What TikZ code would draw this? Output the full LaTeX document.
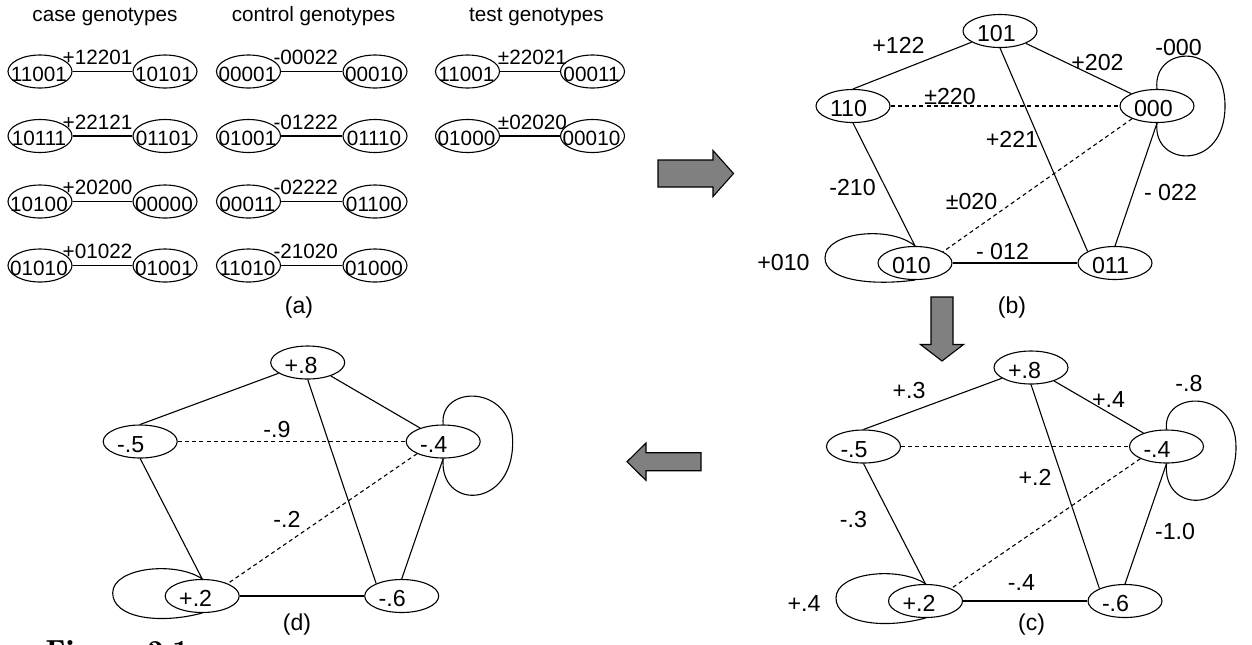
\documentclass[tikz,border=0pt]{standalone}
\usepackage{fontspec}
\setmainfont{Liberation Sans}
\usetikzlibrary{shapes.geometric}
\definecolor{arrowgray}{RGB}{128,128,128}
\tikzset{
  pairell/.style={draw, ellipse, minimum width=32pt, minimum height=16.5pt, inner sep=0pt},
  graphell/.style={draw, ellipse, minimum width=37pt, minimum height=16.5pt, inner sep=0pt},
  pairtxt/.style={inner sep=0pt, font=\fontsize{10.35pt}{12pt}\selectfont},
  graphtxt/.style={inner sep=0pt, font=\fontsize{11.6pt}{13pt}\selectfont},
  captxt/.style={inner sep=0pt, anchor=base, font=\fontsize{11.5pt}{13pt}\selectfont},
  pairlab/.style={pairtxt, anchor=base, pos=0.5, yshift=3.5pt},
  edgelab/.style={graphtxt, anchor=base},
  weak/.style={dash pattern=on 2pt off 1.6pt},
  blockarrow/.style={draw, fill=arrowgray, line join=miter},
}
% genotype node of panel (a): ellipse plus its centred text
\newcommand\pairnode[3]{%
  \node[pairell] (#1) at (#2) {};
  \node[pairtxt, anchor=base] (#1t) at ([shift={(-1,9.5)}]#1.center) {#3};}
% one row of panel (a): two genotypes joined by a labelled line
\newcommand\pairrow[8]{%
  \pairnode{#1l}{#2,#4}{#5}%
  \pairnode{#1r}{#3,#4}{#6}%
  \draw (#1l) -- node[pairlab, xshift=#8]{#7} (#1r);}
% graph vertex: ellipse with text set from its left side
\newcommand\graphnode[3]{%
  \node[graphell] (#1) at (#2) {};
  \node[graphtxt, anchor=base west] (#1t) at ([shift={(14,10.5)}]#1.west) {#3};}
% the weighted five-vertex graph of panels (c) and (d)
\newcommand\pentagraph[1]{%
  \graphnode{#1top}{1031,367.5}{+.8}
  \graphnode{#1left}{863.5,446.5}{-.5}
  \graphnode{#1right}{1166.5,446.5}{-.4}
  \graphnode{#1bl}{925.5,601}{+.2}
  \graphnode{#1br}{1125,601}{-.6}
  \draw (#1top) -- (#1left.north);
  \draw (#1top) -- (#1right);
  \draw (#1top.south) -- (#1br.154);
  \draw[weak] (#1left.east) -- (#1right.west);
  \draw[weak] (#1right.205) -- (#1bl.26);
  \draw (#1left.south) -- (#1bl.north);
  \draw (#1right.south) -- (#1br.north);
  \draw (#1bl.east) -- (#1br.west);
  \coordinate (#1rightloop) at (1236,447);
  \draw (#1right.north) .. controls (1162,390) and (1236,388) .. (#1rightloop)
        .. controls (1236,515) and (1162,515) .. (#1right.south);
  \coordinate (#1blloop) at (836,598);
  \draw (#1bl.north) .. controls (900,566) and (836,572) .. (#1blloop)
        .. controls (836,622) and (880,630) .. (#1bl.south);
}
\begin{document}
\begin{tikzpicture}[x=0.5pt, y=-0.5pt, line width=0.55pt]
\useasboundingbox (0,0) rectangle (1252,644);

% ---------- panel (a)
\node[pairtxt, anchor=base] (hcase) at (105,21.5) {case genotypes};
\node[pairtxt, anchor=base] (hctrl) at (313.5,21.5) {control genotypes};
\node[pairtxt, anchor=base] (htest) at (536.5,21.5) {test genotypes};

\pairrow{ka}{40}{165}{71.5}{11001}{10101}{+12201}{-2.5pt}
\pairrow{kb}{40}{165}{136}{10111}{01101}{+22121}{-2.5pt}
\pairrow{kc}{40}{165}{201.5}{10100}{00000}{+20200}{-2.5pt}
\pairrow{kd}{40}{165}{265.5}{01010}{01001}{+01022}{-2.5pt}

\pairrow{ca}{248.5}{375}{71.5}{00001}{00010}{-00022}{-3pt}
\pairrow{cb}{248.5}{375}{136}{01001}{01110}{-01222}{-3pt}
\pairrow{cc}{248.5}{375}{201.5}{00011}{01100}{-02222}{-3pt}
\pairrow{cd}{248.5}{375}{265.5}{11010}{01000}{-21020}{-3pt}

\pairrow{ta}{467.5}{592.5}{71.5}{11001}{00011}{±22021}{1.2pt}
\pairrow{tb}{467.5}{592.5}{136}{01000}{00010}{±02020}{1.2pt}

\node[captxt] (capa) at (299,313) {(a)};

% ---------- panel (b)
\graphnode{b101}{1000,31}{101}
\graphnode{b110}{853,106}{110}
\graphnode{b000}{1157,106}{000}
\graphnode{b010}{915,263}{010}
\graphnode{b011}{1115,263}{011}
\draw (b101) -- (b110.north);
\draw (b101) -- (b000);
\draw (b101.south) -- (b011.157);
\draw[weak] (b110.east) -- (b000.west);
\draw[weak] (b000.207) -- (b010.22);
\draw (b000.south) -- (b011.north);
\draw (b110.south) -- (b010.north);
\draw (b010.east) -- (b011.west);
\coordinate (b000loop) at (1225,106);
\draw (b000.north) .. controls (1152,45) and (1225,40) .. (b000loop)
      .. controls (1225,172) and (1152,167) .. (b000.south);
\coordinate (b010loop) at (825,258);
\draw (b010.north) .. controls (890,225) and (825,232) .. (b010loop)
      .. controls (825,280) and (870,286) .. (b010.south);

\node[edgelab] (lb1) at (898.5,53) {+122};
\node[edgelab] (lb2) at (1097.5,70) {+202};
\node[edgelab] (lb3) at (1178.5,55) {-000};
\node[edgelab] (lb4) at (950,104) {±220};
\node[edgelab] (lb5) at (1012,147) {+221};
\node[edgelab] (lb6) at (852.5,195) {-210};
\node[edgelab] (lb7) at (971.5,209) {±020};
\node[edgelab] (lb8) at (1170.5,200) {- 022};
\node[edgelab] (lb9) at (1002.5,259) {- 012};
\node[edgelab] (lb10) at (783.5,270) {+010};
\node[captxt] (capb) at (1012,313) {(b)};

% ---------- panel (c)
\pentagraph{c}
\node[edgelab] (lc1) at (909,398) {+.3};
\node[edgelab] (lc2) at (1108.5,407) {+.4};
\node[edgelab] (lc3) at (1189,391) {-.8};
\node[edgelab] (lc4) at (1035,485) {+.2};
\node[edgelab] (lc5) at (853.5,527) {-.3};
\node[edgelab] (lc6) at (1175,539) {-1.0};
\node[edgelab] (lc7) at (1021.5,590) {-.4};
\node[edgelab] (lc8) at (804,611) {+.4};
\node[captxt] (capc) at (1031.5,630.5) {(c)};

% ---------- panel (d)
\begin{scope}[shift={(-723.3,-5)}]
\pentagraph{d}
\end{scope}
\node[edgelab] (ld1) at (277,437) {-.9};
\node[edgelab] (ld2) at (287,527) {-.2};
\node[captxt] (capd) at (297,630.5) {(d)};

% ---------- block arrows between the panels
\draw[blockarrow] (658,160) -- (713,160) -- (713,150.5) -- (733.5,173.5)
  -- (713,196.5) -- (713,187) -- (658,187) -- cycle;
\draw[blockarrow] (931,297) -- (953,297) -- (953,344.5) -- (963.5,344.5)
  -- (942,361) -- (920.5,344.5) -- (931,344.5) -- cycle;
\draw[blockarrow] (701,452.7) -- (646,452.7) -- (646,443) -- (627,461.7)
  -- (646,480.4) -- (646,470.7) -- (701,470.7) -- cycle;

% ---------- figure caption, running off the lower edge
\node[inner sep=0pt, anchor=base west,
      font=\fontfamily{lmr}\bfseries\fontsize{16pt}{18pt}\selectfont] (figcap)
      at (45,662) {Figure 2.1};
\end{tikzpicture}
\end{document}
